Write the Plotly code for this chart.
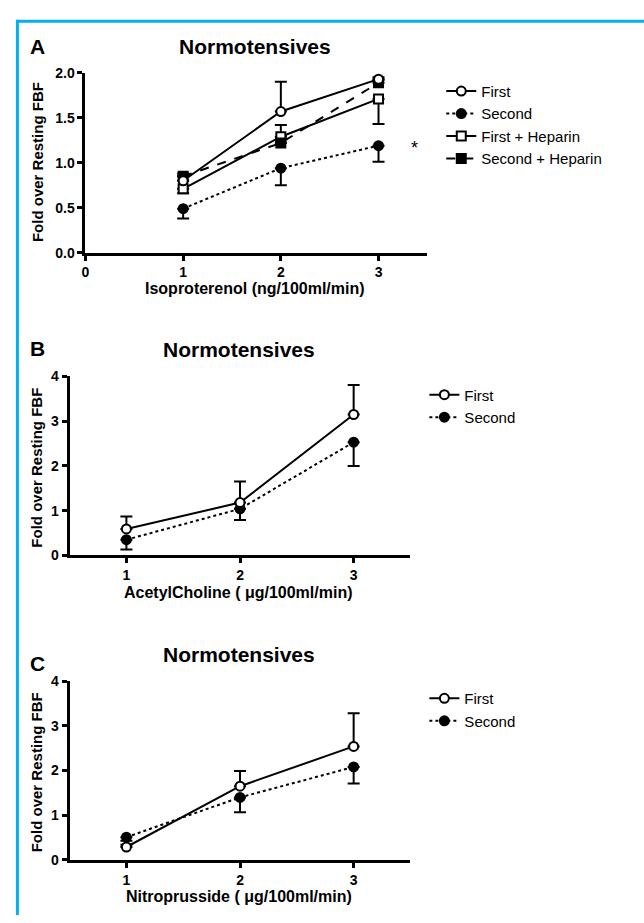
import plotly.graph_objects as go

W, H = 644, 923
FONT = "Liberation Sans"

doses = [1, 2, 3]

# Panel A: Isoproterenol
iso_first = [0.80, 1.57, 1.93]
iso_first_up = [0.05, 0.33, 0.02]
iso_second = [0.49, 0.94, 1.19]
iso_second_dn = [0.11, 0.19, 0.18]
iso_first_hep = [0.71, 1.29, 1.71]
iso_first_hep_up = [0.0, 0.13, 0.0]
iso_first_hep_dn = [0.05, 0.0, 0.28]
iso_second_hep = [0.85, 1.22, 1.89]
iso_second_hep_up = [0.03, 0.0, 0.03]

# Panel B: AcetylCholine
ach_first = [0.59, 1.18, 3.15]
ach_first_up = [0.28, 0.47, 0.66]
ach_second = [0.35, 1.04, 2.53]
ach_second_dn = [0.22, 0.25, 0.53]

# Panel C: Nitroprusside
snp_first = [0.29, 1.65, 2.54]
snp_first_up = [0.05, 0.34, 0.74]
snp_second = [0.51, 1.40, 2.08]
snp_second_dn = [0.08, 0.33, 0.37]

series_names_A = ["First", "Second", "First + Heparin", "Second + Heparin"]
series_names_BC = ["First", "Second"]
panel_titles = ["Normotensives", "Normotensives", "Normotensives"]
x_titles = ["Isoproterenol (ng/100ml/min)", "AcetylCholine ( \u03bcg/100ml/min)",
            "Nitroprusside ( \u03bcg/100ml/min)"]
y_title = "Fold over Resting FBF"
panel_letters = ["A", "B", "C"]

fig = go.Figure()

def px(x):
    return x / W

def py(y):
    return 1 - y / H

def add_series(name, y, up, dn, xa, ya, legend, symbol, filled, dash, rank):
    err = dict(type="data", symmetric=False,
               array=up if up is not None else [0] * len(y),
               arrayminus=dn if dn is not None else [0] * len(y),
               color="black", thickness=2, width=6)
    fig.add_trace(go.Scatter(
        x=doses, y=y, name=name, mode="lines+markers",
        xaxis=xa, yaxis=ya, legend=legend, legendrank=rank,
        line=dict(color="black", width=2, dash=dash),
        marker=dict(symbol=symbol, size=9, color="black" if filled else "white",
                    line=dict(color="black", width=2)),
        error_y=err, cliponaxis=False,
    ))

# Panel A
add_series(series_names_A[2], iso_first_hep, iso_first_hep_up, iso_first_hep_dn, "x", "y", "legend", "square", False, "solid", 3)
add_series(series_names_A[3], iso_second_hep, iso_second_hep_up, None, "x", "y", "legend", "square", True, "dash", 4)
add_series(series_names_A[1], iso_second, None, iso_second_dn, "x", "y", "legend", "circle", True, "dot", 2)
add_series(series_names_A[0], iso_first, iso_first_up, None, "x", "y", "legend", "circle", False, "solid", 1)

# Panel B
add_series(series_names_BC[1], ach_second, None, ach_second_dn, "x2", "y2", "legend2", "circle", True, "dot", 2)
add_series(series_names_BC[0], ach_first, ach_first_up, None, "x2", "y2", "legend2", "circle", False, "solid", 1)

# Panel C
add_series(series_names_BC[1], snp_second, None, snp_second_dn, "x3", "y3", "legend3", "circle", True, "dot", 2)
add_series(series_names_BC[0], snp_first, snp_first_up, None, "x3", "y3", "legend3", "circle", False, "solid", 1)

axis_common = dict(showline=True, linecolor="black", linewidth=3, ticks="outside",
                   ticklen=5, tickwidth=2.5, tickcolor="black", showgrid=False,
                   zeroline=False, mirror=False,
                   tickfont=dict(family=FONT, size=14, color="black", weight="bold"))

panels = [
    dict(xd=[82, 426], yd=[66, 249], xr=[0, 3.5], yr=[0, 2.0], xt=[0, 1, 2, 3],
         yt=[0, 0.5, 1.0, 1.5, 2.0], yfmt=".1f"),
    dict(xd=[66, 409], yd=[375, 557], xr=[0.5, 3.5], yr=[0, 4], xt=[1, 2, 3],
         yt=[0, 1, 2, 3, 4], yfmt="d"),
    dict(xd=[66, 409], yd=[685, 867], xr=[0.5, 3.5], yr=[0, 4], xt=[1, 2, 3],
         yt=[0, 1, 2, 3, 4], yfmt="d"),
]

layout = dict(width=W, height=H, margin=dict(l=0, r=0, t=0, b=0),
              paper_bgcolor="white", plot_bgcolor="white",
              font=dict(family=FONT, color="black"))

for i, p in enumerate(panels):
    sfx = "" if i == 0 else str(i + 1)
    layout["xaxis" + sfx] = dict(axis_common, domain=[px(p["xd"][0]), px(p["xd"][1])],
                                 range=p["xr"], tickvals=p["xt"], anchor="y" + sfx)
    layout["yaxis" + sfx] = dict(axis_common, domain=[py(p["yd"][1]), py(p["yd"][0])],
                                 range=p["yr"], tickvals=p["yt"], tickformat=p["yfmt"],
                                 anchor="x" + sfx)

leg_common = dict(font=dict(family=FONT, size=15, color="black"), bgcolor="rgba(0,0,0,0)",
                  xanchor="left", yanchor="top", traceorder="normal", itemwidth=30,
                  tracegroupgap=0)
layout["legend"] = dict(leg_common, x=px(440), y=py(68))
layout["legend2"] = dict(leg_common, x=px(423), y=py(377))
layout["legend3"] = dict(leg_common, x=px(423), y=py(686))

fig.update_layout(**layout)

annotations = []
title_pos = [(253, 39), (236, 348), (236, 658)]
letter_pos = [(34, 39), (34, 347), (34, 667)]
xtitle_pos = [(253, 285), (236, 595), (236, 904)]
ytitle_pos = [(33, 157), (33, 468), (33, 778)]
for i in range(3):
    annotations.append(dict(text=panel_titles[i], x=px(title_pos[i][0]), y=py(title_pos[i][1]),
                            xref="paper", yref="paper", showarrow=False, xanchor="center", yanchor="middle",
                            font=dict(family=FONT, size=21, color="black", weight="bold")))
    annotations.append(dict(text=panel_letters[i], x=px(letter_pos[i][0]), y=py(letter_pos[i][1]),
                            xref="paper", yref="paper", showarrow=False, xanchor="center", yanchor="middle",
                            font=dict(family=FONT, size=21, color="black", weight="bold")))
    annotations.append(dict(text=x_titles[i], x=px(xtitle_pos[i][0]), y=py(xtitle_pos[i][1]),
                            xref="paper", yref="paper", showarrow=False, xanchor="center", yanchor="middle",
                            font=dict(family=FONT, size=16, color="black", weight="bold")))
    annotations.append(dict(text=y_title, x=px(ytitle_pos[i][0]), y=py(ytitle_pos[i][1]),
                            xref="paper", yref="paper", showarrow=False, xanchor="center", yanchor="middle",
                            textangle=-90,
                            font=dict(family=FONT, size=15, color="black", weight="bold")))

annotations.append(dict(text="*", x=3.37, y=1.16, xref="x", yref="y", showarrow=False,
                        xanchor="center", yanchor="middle",
                        font=dict(family=FONT, size=18, color="black")))

shapes = [
    dict(type="line", xref="paper", yref="paper", x0=px(13.5), x1=1.0, y0=py(13.5), y1=py(13.5),
         line=dict(color="#00B0F0", width=3)),
    dict(type="line", xref="paper", yref="paper", x0=px(13.5), x1=px(13.5), y0=py(12), y1=0,
         line=dict(color="#00B0F0", width=3)),
]
fig.update_layout(annotations=annotations, shapes=shapes)

fig.write_html("out.html", config={"displayModeBar": False},
               post_script="document.body.style.margin='0';")
